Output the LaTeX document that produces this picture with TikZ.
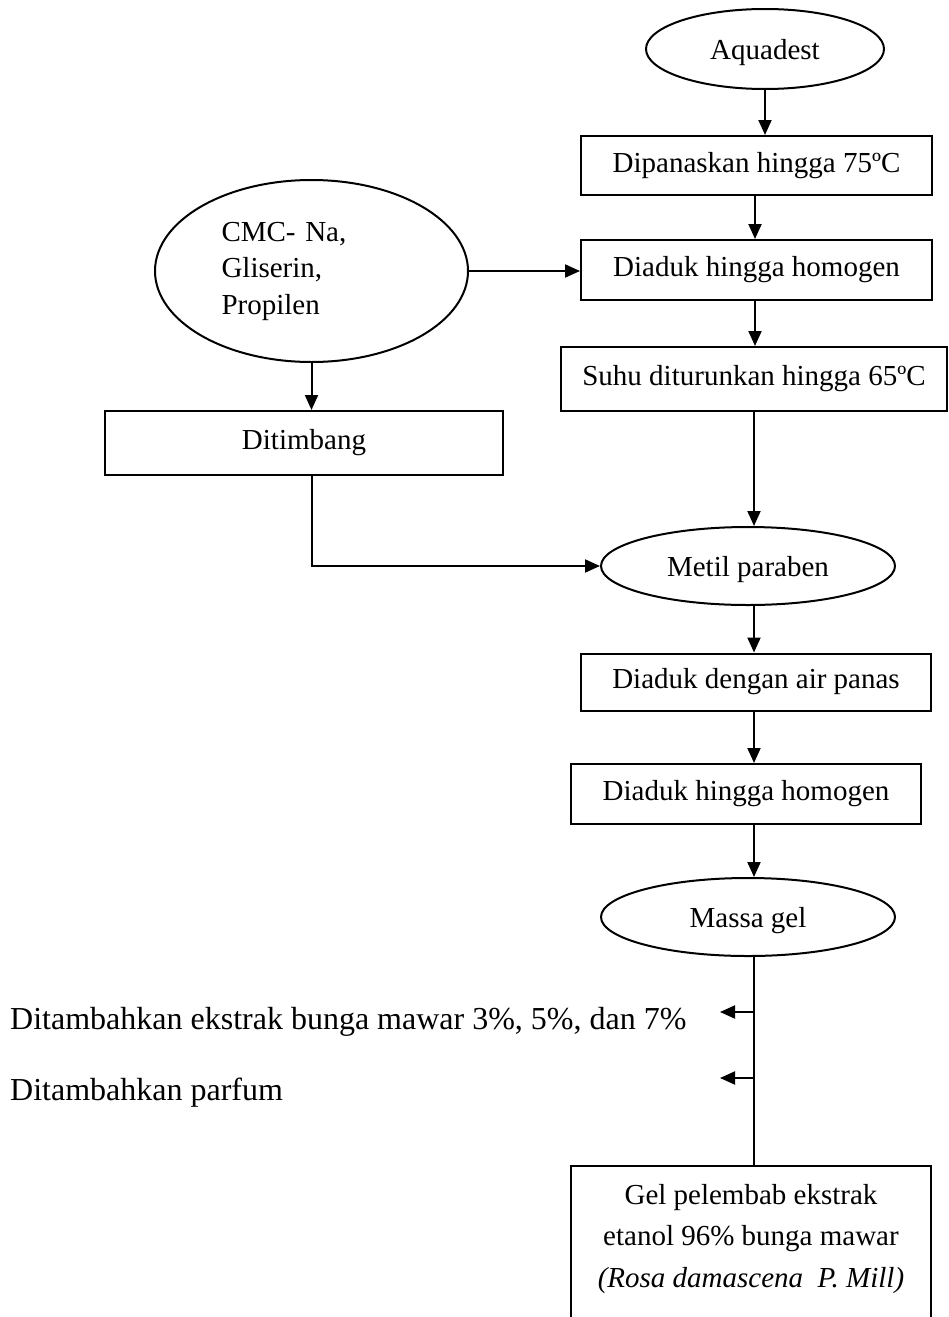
\documentclass[tikz,border=0pt]{standalone}
\usepackage{fontspec}
\setmainfont{Liberation Serif}
\usetikzlibrary{shapes.geometric,arrows.meta,calc}

% text inside the ovals sits a little below the geometric centre
\newcommand{\lowtext}[1]{\raisebox{-4pt}[\height][\depth]{#1}}

\begin{document}
\begin{tikzpicture}[x=1pt,y=-1pt,
  every node/.style={font=\fontsize{29}{36.5}\selectfont},
  proc/.style={draw, rectangle, line width=2pt, inner sep=0pt},
  oval/.style={draw, ellipse, line width=2pt, inner sep=0pt},
  flow/.style={-{Triangle[length=15pt,width=13pt]}, line width=2pt},
  plain/.style={line width=2pt},
  note/.style={anchor=west, inner sep=0pt, font=\fontsize{32}{38}\selectfont}]
\useasboundingbox (0,0) rectangle (949,1317);
\clip (0,0) rectangle (949,1317);

% main column
\node[oval, minimum width=238pt, minimum height=80pt] (aq) at (765,49) {\lowtext{Aquadest}};
\node[proc, minimum width=351pt, minimum height=59pt] (b1) at (756.5,165.5) {Dipanaskan hingga 75ºC};
\node[proc, minimum width=351pt, minimum height=60pt] (b2) at (756.5,270) {Diaduk hingga homogen};
\node[proc, minimum width=386pt, minimum height=64pt] (b3) at (754,379) {Suhu diturunkan hingga 65ºC};

% side branch
\node[oval, minimum width=313pt, minimum height=182pt, text width=180pt, align=left] (cmc) at (311.5,271) {CMC- Na,\\Gliserin,\\Propilen};
\node[proc, minimum width=398pt, minimum height=64pt] (tim) at (304,443) {Ditimbang};

\node[oval, minimum width=294pt, minimum height=78pt] (met) at (748,566) {\lowtext{Metil paraben}};
\node[proc, minimum width=350pt, minimum height=57pt] (b4) at (756,682) {Diaduk dengan air panas};
\node[proc, minimum width=350pt, minimum height=60pt] (b5) at (746,794) {Diaduk hingga homogen};
\node[oval, minimum width=294pt, minimum height=78pt] (mg) at (748,917) {\lowtext{Massa gel}};

% additions
\node[note] (add1) at (10,1022) {Ditambahkan ekstrak bunga mawar 3\%, 5\%, dan 7\%};
\node[note] (add2) at (10,1093) {Ditambahkan parfum};
\coordinate (t1) at (720,1012);
\coordinate (t2) at (720,1078);

% final product
\node[proc, minimum width=360pt, minimum height=190pt, anchor=north] (fin) at (751,1165) {};
\node[align=center, inner sep=0pt, font=\fontsize{29}{41.5}\selectfont] (fintext) at (751,1239)
  {Gel pelembab ekstrak\\etanol 96\% bunga mawar\\\textit{(Rosa damascena~~P. Mill)}};

% connectors
\draw[flow] (aq.south) -- (aq.south |- b1.north);
\draw[flow] ([xshift=-1.5pt]b1.south) -- ([xshift=-1.5pt]b1.south |- b2.north);
\draw[flow] ([xshift=-1.5pt]b2.south) -- ([xshift=-1.5pt]b2.south |- b3.north);
\draw[flow] (cmc.east) -- (cmc.east -| b2.west);
\draw[flow] (cmc.south) -- (cmc.south |- tim.north);
\draw[flow] (tim.south -| cmc.south) -- (cmc.south |- met.west) -- (met.west);
\draw[flow] (b3.south) -- (b3.south |- met.north);
\draw[flow] (b3.south |- met.south) -- (b3.south |- b4.north);
\draw[flow] (b3.south |- b4.south) -- (b3.south |- b5.north);
\draw[flow] (b3.south |- b5.south) -- (b3.south |- mg.north);
\draw[plain] (b3.south |- mg.south) -- (b3.south |- fin.north);
\draw[flow] (b3.south |- t1) -- (t1);
\draw[flow] (b3.south |- t2) -- (t2);
\end{tikzpicture}
\end{document}
